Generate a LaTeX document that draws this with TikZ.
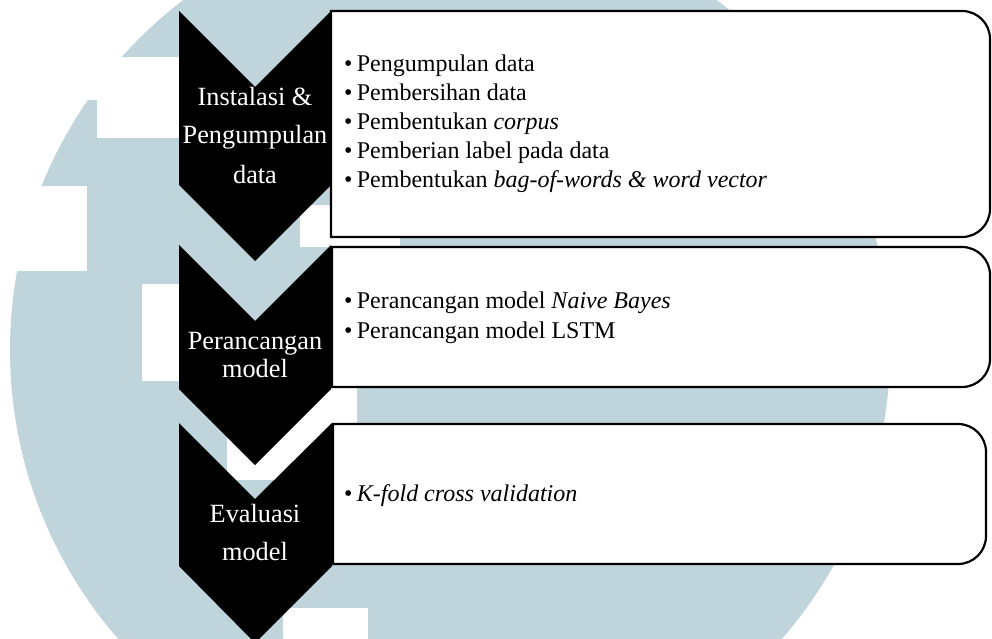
\documentclass[tikz,border=0pt]{standalone}
\usepackage{fontspec}
\setmainfont{Liberation Serif}
\definecolor{wm}{RGB}{192,212,219}
\begin{document}
\begin{tikzpicture}[x=1pt,y=-1pt,
  chev/.style={fill=black},
  boxline/.style={draw=black,line width=2.2pt,fill=white},
  lab/.style={text=white,font=\fontsize{26.3}{30}\selectfont,anchor=base,inner sep=0pt},
  item/.style={font=\fontsize{24}{28}\selectfont,anchor=base west,inner sep=0pt}]
\useasboundingbox (0,0) rectangle (992,639);
% faint background watermark
\begin{scope}
\clip (0,0) rectangle (992,639);
\fill[wm] (450,350) circle[radius=440];
\fill[white] (0,57) rectangle (180,100);
\fill[white] (97,100) rectangle (180,138);
\fill[white] (0,186) rectangle (87,271);
\fill[white] (142,284) rectangle (180,381);
\fill[white] (283,608) rectangle (368,639);
\fill[white] (300,205) rectangle (400,247);
\fill[white] (227,387) rectangle (357,480);
\end{scope}
% chevrons
\fill[chev] (179,11) -- (255,87) -- (331,11) -- (331,185) -- (255,261) -- (179,185) -- cycle;
\fill[chev] (179,245) -- (255,321) -- (331,245) -- (331,389) -- (255,465) -- (179,389) -- cycle;
\fill[chev] (179,423) -- (255,499) -- (332,423) -- (332,566) -- (255,643) -- (179,566) -- cycle;
% boxes
\draw[boxline] (331,11) -- (962,11) arc[start angle=-90,end angle=0,radius=28] -- (990,209) arc[start angle=0,end angle=90,radius=28] -- (331,237) -- cycle;
\draw[boxline] (332,247) -- (962,247) arc[start angle=-90,end angle=0,radius=28] -- (990,359) arc[start angle=0,end angle=90,radius=28] -- (332,387) -- cycle;
\draw[boxline] (333,424) -- (958,424) arc[start angle=-90,end angle=0,radius=28] -- (986,536) arc[start angle=0,end angle=90,radius=28] -- (333,564) -- cycle;
% chevron labels
\node[lab] (c1a) at (255,106) {Instalasi \&};
\node[lab] (c1b) at (255,144) {Pengumpulan};
\node[lab] (c1c) at (255,183) {data};
\node[lab] (c2a) at (255,349) {Perancangan};
\node[lab] (c2b) at (255,377) {model};
\node[lab] (c3a) at (255,522) {Evaluasi};
\node[lab] (c3b) at (255,560) {model};
% items
\node[item] (i1) at (344,72) {•\hspace{4.3pt}Pengumpulan data};
\node[item] (i2) at (344,101) {•\hspace{4.3pt}Pembersihan data};
\node[item] (i3) at (344,130) {•\hspace{4.3pt}Pembentukan \textit{corpus}};
\node[item] (i4) at (344,158.5) {•\hspace{4.3pt}Pemberian label pada data};
\node[item] (i5) at (344,187.5) {•\hspace{4.3pt}Pembentukan \textit{bag-of-words \& word vector}};
\node[item] (j1) at (344,308) {•\hspace{4.3pt}Perancangan model \textit{Naive Bayes}};
\node[item] (j2) at (344,338) {•\hspace{4.3pt}Perancangan model LSTM};
\node[item] (k1) at (344,501) {•\hspace{4.3pt}\textit{K-fold cross validation}};
\end{tikzpicture}
\end{document}
